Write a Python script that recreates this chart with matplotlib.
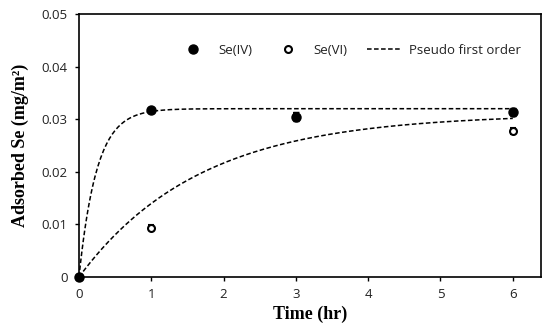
import numpy as np
import matplotlib.pyplot as plt
from matplotlib.lines import Line2D

# measured data
time = [0, 1, 3, 6]
se4 = [0.0, 0.0317, 0.0305, 0.0314]
se4_err = [0.0, 0.0004, 0.0008, 0.0008]
se6 = [0.0, 0.0094, 0.0305, 0.0277]
se6_err = [0.0, 0.0004, 0.0006, 0.0006]

# pseudo first order fit parameters (qe, k)
fit_fast = (0.032, 4.1)
fit_slow = (0.031, 0.6)

fig = plt.figure(figsize=(5.5, 3.33), dpi=100)
ax = fig.add_axes([0.1436, 0.168, 0.84, 0.79])

t = np.linspace(0, 6, 300)
for qe, k in [fit_fast, fit_slow]:
    ax.plot(t, qe * (1 - np.exp(-k * t)), color="black", lw=1.1,
            dashes=(3, 1.6), zorder=2)

ax.errorbar(time, se6, yerr=se6_err, fmt="o", mfc="white", mec="black", mew=1.5,
            ms=5, ecolor="black", elinewidth=0.8, capsize=2.5, zorder=3, clip_on=False)
ax.errorbar(time, se4, yerr=se4_err, fmt="o", color="black", ms=6.5,
            ecolor="black", elinewidth=0.8, capsize=2.5, zorder=4, clip_on=False)

ax.set_xlim(0, 6.39)
ax.set_ylim(0, 0.05)
ax.set_xticks([0, 1, 2, 3, 4, 5, 6])
ax.set_yticks([0, 0.01, 0.02, 0.03, 0.04, 0.05])
ax.set_yticklabels(["0", "0.01", "0.02", "0.03", "0.04", "0.05"])
ax.tick_params(direction="out", length=3, width=1, labelsize=9.5, pad=5)
for lbl in ax.get_xticklabels() + ax.get_yticklabels():
    lbl.set_fontfamily("Open Sans")
    lbl.set_color("#222222")
for s in ax.spines.values():
    s.set_linewidth(1.2)

ax.set_xlabel("Time (hr)", fontfamily="Liberation Serif", fontweight="bold", fontsize=13, labelpad=3)
ax.set_ylabel("Adsorbed Se (mg/m²)", fontfamily="Liberation Serif",
              fontweight="bold", fontsize=13, labelpad=9)

handles = [
    Line2D([], [], ls="none", marker="o", color="black", ms=6.5),
    Line2D([], [], ls="none", marker="o", mfc="white", mec="black", mew=1.5, ms=5),
    Line2D([], [], color="black", lw=1.1, dashes=(3, 1.6)),
]
labels = ["Se(IV)", "Se(VI)", "Pseudo first order"]
leg = ax.legend(handles, labels, ncol=3, frameon=False,
                loc="center", bbox_to_anchor=(0.583, 0.862), handlelength=2.6,
                handletextpad=0.6, columnspacing=1.45,
                prop={"family": "Open Sans", "size": 9.5})
for txt in leg.get_texts():
    txt.set_color("#222222")

fig.savefig("out.png")
